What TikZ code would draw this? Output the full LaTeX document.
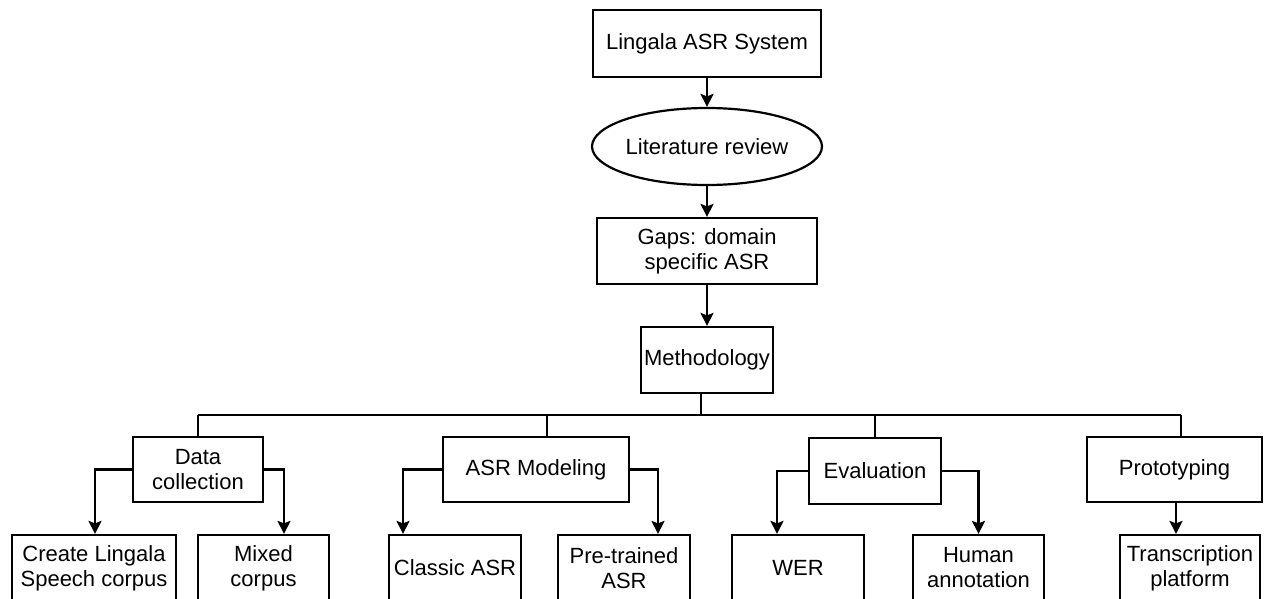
\documentclass[tikz,border=0pt]{standalone}
\usepackage{fontspec}
\setmainfont{Liberation Sans}
\usetikzlibrary{shapes.geometric,arrows.meta}

\tikzset{
  stage/.style={draw, rectangle, line width=2.2pt, inner sep=0pt, align=center,
    font=\fontsize{22}{25}\selectfont},
  oval/.style={draw, ellipse, line width=2.2pt, inner sep=0pt, align=center,
    font=\fontsize{22}{25}\selectfont},
  link/.style={line width=2.2pt},
  flow/.style={line width=2.2pt, -{Stealth[length=13pt, width=13pt, inset=2.5pt]}},
}

\begin{document}
\begin{tikzpicture}[x=1pt, y=-1pt]
  \clip (0,0) rectangle (1271,599);
  \fill[white] (0,0) rectangle (1271,599);

  % main chain
  \node[stage, minimum width=228pt, minimum height=67pt] (sys) at (707,43.5) {Lingala ASR System};
  \node[oval, minimum width=222pt, minimum height=77pt] (lit) at (707,146.5) {Literature review};
  \node[stage, minimum width=220pt, minimum height=66pt] (gaps) at (707,251) {Gaps: domain\\specific ASR};
  \node[stage, minimum width=132pt, minimum height=66pt] (meth) at (707,360) {Methodology};

  % work packages
  \node[stage, minimum width=130pt, minimum height=65pt] (data) at (198,469.5) {Data\\collection};
  \node[stage, minimum width=186pt, minimum height=65pt] (asr) at (536,469.5) {ASR Modeling};
  \node[stage, minimum width=132pt, minimum height=66pt] (eval) at (875,471) {Evaluation};
  \node[stage, minimum width=175pt, minimum height=65pt] (proto) at (1174.5,469.5) {Prototyping};

  % outcomes
  \node[stage, minimum width=164pt, minimum height=66pt] (create) at (94,568) {Create Lingala\\Speech corpus};
  \node[stage, minimum width=131pt, minimum height=66pt] (mixed) at (263.5,568) {Mixed\\corpus};
  \node[stage, minimum width=132pt, minimum height=66pt] (classic) at (455,568) {Classic ASR};
  \node[stage, minimum width=132pt, minimum height=66pt] (pre) at (624,568) {Pre-trained\\ASR};
  \node[stage, minimum width=132pt, minimum height=66pt] (wer) at (798,568) {WER};
  \node[stage, minimum width=131pt, minimum height=66pt] (human) at (978.5,568) {Human\\annotation};
  \node[stage, minimum width=140pt, minimum height=66pt] (trans) at (1190,568) {Transcription\\platform};

  % chain arrows
  \draw[flow] (sys) -- (lit);
  \draw[flow] (lit) -- (gaps);
  \draw[flow] (gaps) -- (meth);

  % distribution bus
  \coordinate (busL) at (198,415);
  \coordinate (busR) at (1181,415);
  \draw[link] (busL) -- (busR);
  \draw[link] ([xshift=-6pt]meth.south) -- ([xshift=-6pt]meth.south |- busL);
  \draw[link] (data.north) -- (data.north |- busL);
  \draw[link] ([xshift=11pt]asr.north) -- ([xshift=11pt]asr.north |- busL);
  \draw[link] (eval.north) -- (eval.north |- busL);
  \draw[link] ([xshift=6.5pt]proto.north) -- (busR);

  % branches
  \draw[flow] (data.west) -| ([xshift=1pt]create.north);
  \draw[flow] (data.east) -| ([xshift=20.5pt]mixed.north);
  \draw[flow] (asr.west) -| ([xshift=-52pt]classic.north);
  \draw[flow] (asr.east) -| ([xshift=34pt]pre.north);
  \draw[flow] (eval.west) -| ([xshift=-21pt]wer.north);
  \draw[flow] (eval.east) -| (human.north);
  \draw[flow] ([xshift=1.5pt]proto.south) -- ([xshift=1.5pt]proto.south |- trans.north);
\end{tikzpicture}
\end{document}
